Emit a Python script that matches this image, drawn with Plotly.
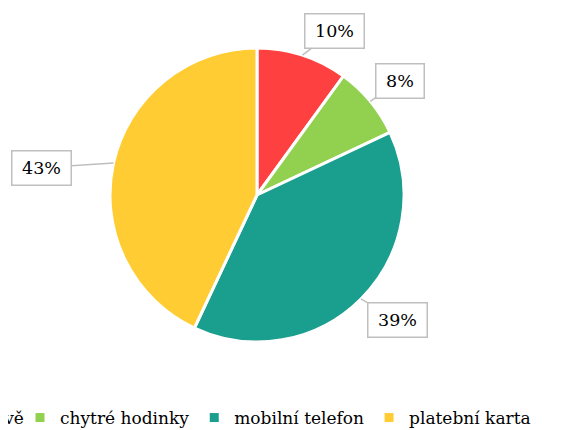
import math
import plotly.graph_objects as go

# ---- data ----
labels = ["hotově", "chytré hodinky", "mobilní telefon", "platební karta"]
values = [10, 8, 39, 43]
label_texts = ["10%", "8%", "39%", "43%"]

# ---- style ----
colors = ["#FF4040", "#92D050", "#1A9E8E", "#FFCC33"]
W, H = 587, 430
OFF = 8                              # page body margin offset
CX, CY, R = 257 - OFF, 195 - OFF, 147   # pie centre / radius in px
label_offsets = [(32, -24), (30, -20), (37, 21), (-72, 5)]  # box centre vs. tip, px
FONT = "DejaVu Serif"

fig = go.Figure()

fig.add_trace(go.Pie(
    labels=labels, values=values, sort=False, direction="clockwise", rotation=0,
    marker=dict(colors=colors, line=dict(color="white", width=3)),
    textinfo="none", showlegend=False,
    domain=dict(x=[(CX - R) / W, (CX + R) / W], y=[1 - (CY + R) / H, 1 - (CY - R) / H]),
))

# legend entries (first one partly outside the canvas, as in the reference)
for i, (lab, col) in enumerate(zip(labels, colors)):
    fig.add_trace(go.Scatter(
        x=[None], y=[None], mode="markers", name=lab,
        marker=dict(symbol="square", size=9, color=col),
        legend="legend" if i == 0 else "legend2",
    ))

# data labels with callout lines
total = sum(values)
cum = 0
for val, txt, (ox, oy) in zip(values, label_texts, label_offsets):
    mid = (cum + val / 2) / total * 2 * math.pi
    cum += val
    tx = CX + R * math.sin(mid)
    ty = CY - R * math.cos(mid)
    fig.add_annotation(
        x=tx / W, y=1 - ty / H, xref="paper", yref="paper",
        ax=ox, ay=oy, axref="pixel", ayref="pixel",
        text=txt, showarrow=True, arrowhead=0, arrowwidth=1.5,
        arrowcolor="#BFBFBF", standoff=0,
        font=dict(family=FONT, size=17.5, color="black"),
        bgcolor="white", bordercolor="#BFBFBF", borderwidth=1.5, borderpad=5,
        width=48 if len(txt) == 3 else 37, height=23,
    )

legend_common = dict(
    orientation="h", font=dict(family=FONT, size=17, color="black"),
    bgcolor="rgba(0,0,0,0)", yanchor="middle", y=1 - (418 - OFF) / H, xanchor="left",
)
fig.update_layout(
    width=W, height=H,
    font=dict(family=FONT),
    margin=dict(l=0, r=0, t=0, b=0, autoexpand=False),
    paper_bgcolor="white", plot_bgcolor="white",
    xaxis=dict(visible=False), yaxis=dict(visible=False),
    legend=dict(x=-82 / W, **legend_common),
    legend2=dict(x=12 / W, **legend_common),
)

fig.write_html("out.html")
